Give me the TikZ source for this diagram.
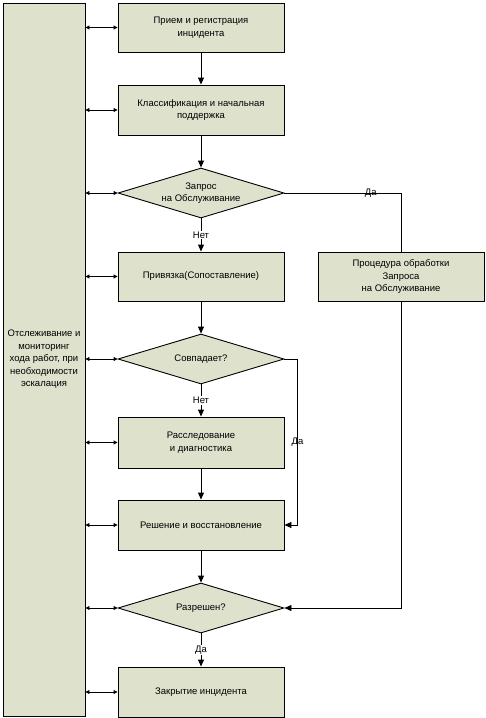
\documentclass[tikz,border=0pt]{standalone}
\usepackage{fontspec}
\setmainfont{Liberation Sans}
\usetikzlibrary{shapes.geometric,arrows.meta}
\definecolor{boxfill}{HTML}{DEE2CD}

\begin{document}
\begin{tikzpicture}[x=1pt,y=-1pt,line width=0.9pt,
    font=\fontsize{9.5}{12.5}\selectfont,
    >={Triangle[length=7pt,width=6pt]},
    both/.style={{Triangle[length=4pt,width=4pt]}-{Triangle[length=4pt,width=4pt]}}]
    \useasboundingbox (0,0) rectangle (486,718);
    \begin{scope}[every node/.style={draw=black,fill=boxfill,align=center,inner sep=0pt,minimum width=166pt,minimum height=50pt}]
        \node (T) [minimum width=82pt,minimum height=713pt] at (44,359.5) {Отслеживание и\\мониторинг\\хода работ, при\\необходимости\\эскалация};
        \node (R) [minimum height=49pt] at (201,27.5) {Прием и регистрация\\инцидента};
        \node (K) at (201,110) {Классификация и начальная\\поддержка};
        \node (Q1) [diamond,aspect=3.32] at (201,193) {Запрос\\на Обслуживание};
        \node (P) [minimum height=49pt] at (201,276.5) {Привязка(Сопоставление)};
        \node (S) [minimum height=49pt] at (401,276.5) {Процедура обработки\\Запроса\\на Обслуживание};
        \node (Q2) [diamond,aspect=3.32] at (201,359) {Совпадает?};
        \node (D) [minimum height=51pt] at (201,442.5) {Расследование\\и диагностика};
        \node (F) at (201,525) {Решение и восстановление};
        \node (Q3) [diamond,aspect=3.32] at (201,608) {Разрешен?};
        \node (C) at (201,692) {Закрытие инцидента};
    \end{scope}
    \begin{scope}[every edge/.style={draw=black,line width=0.9pt}]
        \draw (R) edge [->] (K);
        \draw (K) edge [->] (Q1);
        \draw (Q1) edge [->] node[fill=white,inner sep=1pt]{Нет} (P);
        \draw (P) edge [->] (Q2);
        \draw (Q2) edge [->] node[fill=white,inner sep=1pt]{Нет} (D);
        \draw (D) edge [->] (F);
        \draw (F) edge [->] (Q3);
        \draw (Q3) edge [->] node[fill=white,inner sep=1pt]{Да} (C);
        \draw (T.east |- R) edge [both] (R.west);
        \draw (T.east |- K) edge [both] (K.west);
        \draw (T.east |- Q1) edge [both] (Q1.west);
        \draw (T.east |- P) edge [both] (P.west);
        \draw (T.east |- Q2) edge [both] (Q2.west);
        \draw (T.east |- D) edge [both] (D.west);
        \draw (T.east |- F) edge [both] (F.west);
        \draw (T.east |- Q3) edge [both] (Q3.west);
        \draw (T.east |- C) edge [both] (C.west);
    \end{scope}
    \draw (Q1.east) -| node[pos=0.37]{Да} (S.north);
    \draw [->] (Q2.east) -- ++(13,0) |- node[pos=0.25]{Да} (F.east);
    \draw [->] (S) |- (Q3.east);
\end{tikzpicture}
\end{document}
